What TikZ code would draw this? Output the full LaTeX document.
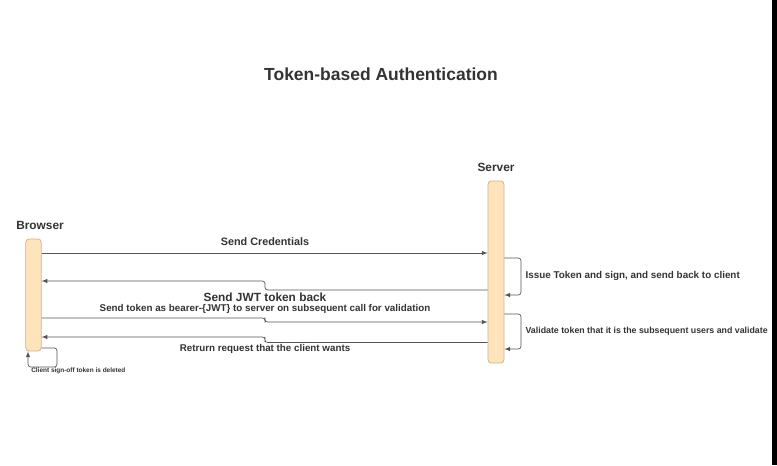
\documentclass[tikz,border=0pt]{standalone}
\usepackage{fontspec}
\setmainfont{Liberation Sans}
\definecolor{txtgray}{HTML}{333333}
\definecolor{linegray}{HTML}{555555}
\definecolor{barfill}{HTML}{FFE3BC}
\definecolor{bardraw}{HTML}{D2B48C}
\begin{document}
\begin{tikzpicture}[
    x=0.75pt, y=-0.75pt, >=latex,
    font=\bfseries, text=txtgray,
    lifebar/.style={draw=bardraw, fill=barfill, rounded corners=2.5pt,
                    inner sep=0pt, line width=0.6pt},
    actor/.style={font=\bfseries\fontsize{8.9}{10}\selectfont},
    msglabel/.style={font=\bfseries\fontsize{7.35}{9}\selectfont, inner sep=1pt},
    selflabel/.style={font=\bfseries\fontsize{7.4}{8}\selectfont, inner sep=1pt, anchor=west},
    msg/.style={->, linegray, line width=0.5pt, rounded corners=2pt},
]
\useasboundingbox (0,0) rectangle (777,465);
\fill[white] (0,0) rectangle (772,465);
\fill[black] (772,0) rectangle (777,465);

% Title
\node[font=\bfseries\fontsize{13.1}{15}\selectfont] (title) at (381,74) {Token-based Authentication};

% Participants
\node[actor] (browserlbl) at (40,225) {Browser};
\node[actor] (serverlbl) at (496,167) {Server};
\node[lifebar, minimum width=11.5pt, minimum height=84pt] (browser) at (33.5,295) {};
\node[lifebar, minimum width=12pt, minimum height=136.5pt] (server) at (496,272) {};

% Messages between browser and server
\draw[msg] (browser.east |- 0,253) -- (server.west |- 0,253);
\node[msglabel, font=\bfseries\fontsize{8.1}{9}\selectfont] (credlbl) at (265,242) {Send Credentials};

\draw[msg] (server.west |- 0,290) -| (265,285.5) |- (browser.east |- 0,281);
\node[msglabel, font=\bfseries\fontsize{8.9}{10}\selectfont] (jwtlbl) at (265,297) {Send JWT token back};

\draw[msg] (browser.east |- 0,318) -| (265,320) |- (server.west |- 0,322);
\node[msglabel] (bearerlbl) at (265,309) {Send token as bearer-\{JWT\} to server on subsequent call for validation};

\draw[msg] (server.west |- 0,342.5) -| (265,339.5) |- (browser.east |- 0,337);
\node[msglabel] (retlbl) at (265,349) {Retrurn request that the client wants};

% Self calls on server
\draw[msg] (server.east |- 0,258) -- (521,258) -- (521,295) -- (server.east |- 0,295);
\node[selflabel] (issuelbl) at (524,276) {Issue Token and sign, and send back to client};

\draw[msg] (server.east |- 0,314) -- (521,314) -- (521,349) -- (server.east |- 0,349);
\node[selflabel, font=\bfseries\fontsize{6.6}{8}\selectfont] (validlbl) at (524,331) {Validate token that it is the subsequent users and validate};

% Self call on browser
\draw[msg] (browser.east |- 0,348) -- (57,348) -- (57,367) -- (28,367) -- (browser.south -| 28,0);
\node[font=\bfseries\fontsize{4.85}{5}\selectfont, anchor=west, inner sep=0pt] (signofflbl) at (31,371) {Client sign-off token is deleted};
\end{tikzpicture}
\end{document}
